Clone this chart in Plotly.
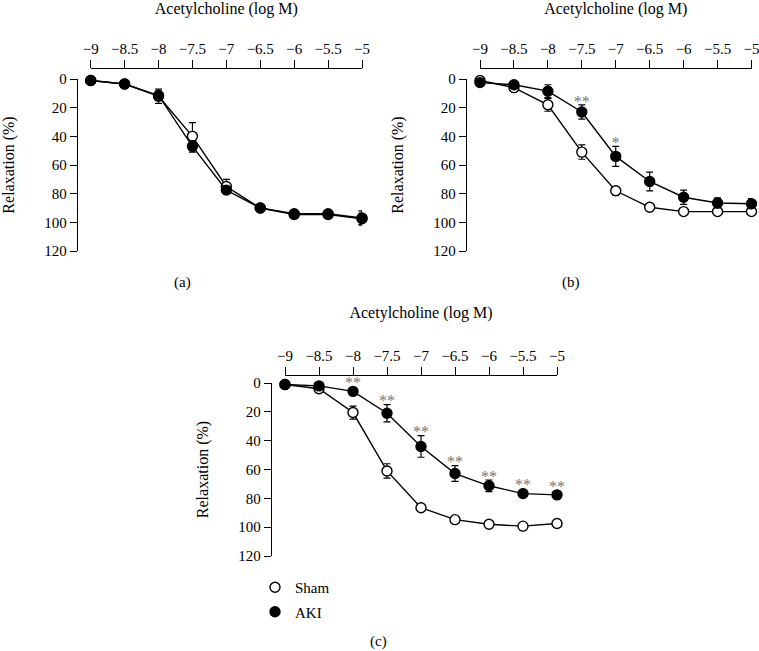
import plotly.graph_objects as go

# ---------------- data ----------------
conc = [-9, -8.5, -8, -7.5, -7, -6.5, -6, -5.5, -5]
y_ticks = [0, 20, 40, 60, 80, 100, 120]

sham_a = [1, 3.5, 12, 40, 75, 90, 94, 94, 97]
sham_a_err = [0.5, 0.8, 5, 9.5, 5, 1, 1.5, 1.5, 5]
aki_a = [1, 3.5, 11.5, 47, 77.5, 90, 94.5, 94.5, 97.5]
aki_a_err = [0.5, 0.8, 3, 4, 2.5, 1, 1.5, 1.5, 4]

sham_b = [1, 6, 18, 51, 78, 89.5, 92.5, 92.5, 92.5]
sham_b_err = [0.5, 1, 4.5, 5, 3, 1, 1, 1, 1]
aki_b = [2.5, 4, 8.5, 23, 54, 71.5, 82.5, 86.5, 87]
aki_b_err = [1, 1.5, 4.5, 5, 7, 6.5, 5, 3.5, 3.5]
sig_b = ["", "", "", "**", "*", "", "", "", ""]

sham_c = [1, 4, 20.5, 61, 86.5, 94.8, 98, 99.3, 97.5]
sham_c_err = [0.5, 1, 4.5, 5, 1.5, 1, 1, 1, 1.5]
aki_c = [1, 2, 5.8, 21, 44, 62.8, 71.3, 76.7, 77.6]
aki_c_err = [0.5, 1, 1.5, 6, 7.5, 5.5, 4, 1.5, 2.5]
sig_c = ["", "", "**", "**", "**", "**", "**", "**", "**"]

x_title = "Acetylcholine (log M)"
y_title = "Relaxation (%)"
panel_labels = ["(a)", "(b)", "(c)"]
group_names = ["Sham", "AKI"]

# ---------------- layout geometry (pixels in the 759x651 window) ----------------
W, H = 759, 651
FONT = "Liberation Serif, Times New Roman, serif"


def fx(px):
    return px / W


def fy(py):
    return 1 - py / H


panels = [
    # x of -9, x of -5, y of 0, y of 120, y-axis line x, x-axis line y
    dict(xa="x", ya="y", x0=90.7, x1=362, y0=79, y1=251, yline=77, xline=68,
         sham=sham_a, sham_err=sham_a_err, aki=aki_a, aki_err=aki_a_err, sig=None,
         label_xy=(182, 283)),
    dict(xa="x2", ya="y2", x0=480, x1=751.5, y0=79, y1=251, yline=466, xline=68,
         sham=sham_b, sham_err=sham_b_err, aki=aki_b, aki_err=aki_b_err, sig=sig_b,
         label_xy=(571, 283)),
    dict(xa="x3", ya="y3", x0=285, x1=557, y0=383, y1=556, yline=271, xline=375,
         sham=sham_c, sham_err=sham_c_err, aki=aki_c, aki_err=aki_c_err, sig=sig_c,
         label_xy=(378, 641)),
]

fig = go.Figure()

line_style = dict(color="black", width=1.4)
sham_marker = dict(symbol="circle", size=10, color="white", line=dict(color="black", width=1.4))
aki_marker = dict(symbol="circle", size=10, color="black", line=dict(color="black", width=1.4))


def err(arr):
    return dict(type="data", array=arr, visible=True, color="black", thickness=1.2, width=3.5)


for i, p in enumerate(panels):
    fig.add_trace(go.Scatter(
        x=conc, y=p["sham"], mode="lines+markers", xaxis=p["xa"], yaxis=p["ya"],
        line=line_style, marker=sham_marker, error_y=err(p["sham_err"]),
        cliponaxis=False, showlegend=False, name=group_names[0]))
    fig.add_trace(go.Scatter(
        x=conc, y=p["aki"], mode="lines+markers", xaxis=p["xa"], yaxis=p["ya"],
        line=line_style, marker=aki_marker, error_y=err(p["aki_err"]),
        cliponaxis=False, showlegend=False, name=group_names[1]))
    if p["sig"] is not None:
        fig.add_trace(go.Scatter(
            x=conc, y=[v - max(e, 3.5) - 1.5 for v, e in zip(p["aki"], p["aki_err"])],
            mode="text", text=p["sig"], textposition="middle center",
            textfont=dict(family=FONT, size=16, color="#777777"),
            xaxis=p["xa"], yaxis=p["ya"], cliponaxis=False,
            showlegend=False, hoverinfo="skip"))

# legend-only traces
fig.add_trace(go.Scatter(x=[None], y=[None], mode="markers", marker=sham_marker,
                         name=group_names[0], legendgroup="g1", xaxis="x3", yaxis="y3"))
fig.add_trace(go.Scatter(x=[None], y=[None], mode="markers", marker=aki_marker,
                         name=group_names[1], legendgroup="g2", xaxis="x3", yaxis="y3"))

layout = dict(
    width=W, height=H, autosize=False,
    margin=dict(l=0, r=0, t=0, b=0),
    paper_bgcolor="white", plot_bgcolor="white",
    font=dict(family=FONT, size=15, color="black"),
    showlegend=True,
    legend=dict(x=fx(255), y=fy(571), xanchor="left", yanchor="top",
                font=dict(family=FONT, size=15, color="black"),
                bgcolor="rgba(0,0,0,0)", itemwidth=30, tracegroupgap=2,
                traceorder="grouped"),
)

annotations = []
for i, p in enumerate(panels):
    sfx = "" if i == 0 else str(i + 1)
    layout["xaxis" + sfx] = dict(
        domain=[fx(p["x0"]), fx(p["x1"])], range=[-9, -5],
        side="top", anchor="free", position=fy(p["xline"]),
        showline=True, linecolor="black", linewidth=1.3,
        ticks="outside", ticklen=8, tickwidth=1.3, tickcolor="black",
        tickmode="array", tickvals=conc, ticklabeloverflow="allow",
        tickfont=dict(family=FONT, size=15, color="black"),
        showgrid=False, zeroline=False, automargin=False, fixedrange=True,
        title=dict(text=x_title, font=dict(family=FONT, size=16, color="black"), standoff=24),
    )
    layout["yaxis" + sfx] = dict(
        domain=[fy(p["y1"]), fy(p["y0"])], range=[120, 0],
        anchor="free", position=fx(p["yline"]),
        showline=True, linecolor="black", linewidth=1.3,
        ticks="outside", ticklen=7, tickwidth=1.3, tickcolor="black",
        tickmode="array", tickvals=y_ticks,
        tickfont=dict(family=FONT, size=15, color="black"),
        showgrid=False, zeroline=False, automargin=False, fixedrange=True,
        title=dict(text=y_title, font=dict(family=FONT, size=16, color="black"), standoff=24),
    )
    lx, ly = p["label_xy"]
    annotations.append(dict(text=panel_labels[i], x=fx(lx), y=fy(ly), xref="paper", yref="paper",
                            showarrow=False, xanchor="center", yanchor="middle",
                            font=dict(family=FONT, size=15, color="black")))

layout["annotations"] = annotations
fig.update_layout(**layout)

# remove the default 8px page margin so the figure fills the window exactly
fig.write_html("out.html", config={"displayModeBar": False},
               post_script="document.body.style.margin='0px';")
